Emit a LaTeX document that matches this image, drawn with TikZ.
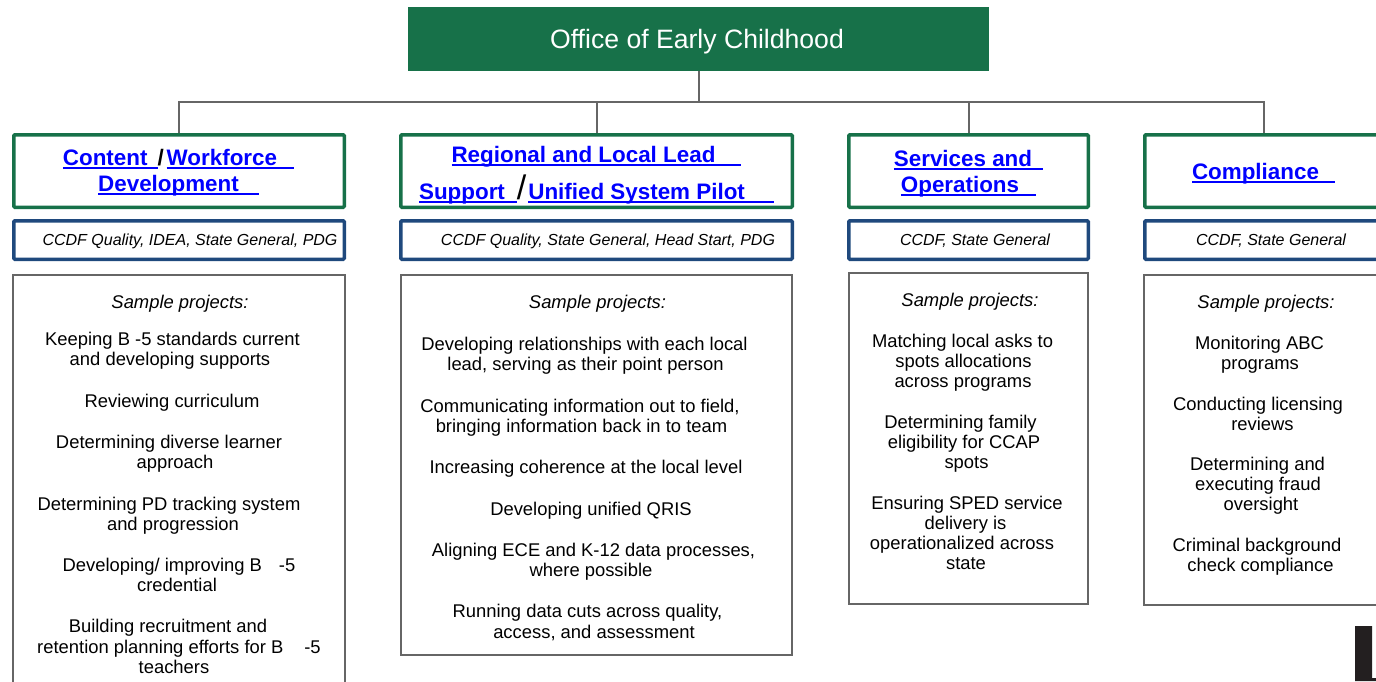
\documentclass[tikz,border=0pt]{standalone}
\usepackage{fontspec}
\setmainfont{Liberation Sans}
\definecolor{oecgreen}{RGB}{23,113,73}
\definecolor{oecblue}{RGB}{31,73,125}
\definecolor{linegray}{RGB}{102,102,102}
\definecolor{linkblue}{RGB}{0,0,255}
\definecolor{ink}{RGB}{35,31,32}
\newcommand\lnk[2]{\setbox0\hbox{#1\hspace{#2pt}}\rlap{\rule[-3.8pt]{\wd0}{1.6pt}}\box0}
\newcommand\bl[4]{\node[body] (#1) at (#2,#3) {#4};}
\newcommand\samplab[3]{\node[samp] (#1) at (#2,#3) {Sample projects:};}
\tikzset{
  greenbox/.style={draw=oecgreen, line width=3.5pt, inner sep=0pt, rounded corners=1pt},
  bluebox/.style={draw=oecblue, line width=3.5pt, inner sep=0pt, rounded corners=1pt},
  graybox/.style={draw=linegray, line width=1.8pt, inner sep=0pt},
  conn/.style={draw=linegray, line width=2pt, line join=miter},
  title/.style={font=\fontsize{22.4}{26}\selectfont\bfseries, text=linkblue, inner sep=0pt, anchor=base},
  fund/.style={font=\fontsize{16}{19}\selectfont\itshape, inner sep=0pt, anchor=base},
  body/.style={font=\fontsize{18.4}{20}\selectfont, inner sep=0pt, anchor=base},
  samp/.style={font=\fontsize{18.4}{20}\selectfont\itshape, inner sep=0pt, anchor=base}
}
\begin{document}
\begin{tikzpicture}[x=1pt,y=-1pt]
\useasboundingbox (0,0) rectangle (1376,681);
\clip (0,0) rectangle (1376,681);

% top
\node[fill=oecgreen, minimum width=581pt, minimum height=64pt, inner sep=0pt] (top) at (698.5,39) {};
\node[font=\fontsize{26.6}{30}\selectfont, text=white, inner sep=0pt, anchor=base] (toptext) at (697,48) {Office of Early Childhood};

% header boxes
\node[greenbox, minimum width=330.5pt, minimum height=72.5pt] (h1) at (179,171) {};
\node[greenbox, minimum width=391.5pt, minimum height=72.5pt] (h2) at (596.5,171) {};
\node[greenbox, minimum width=239.5pt, minimum height=72.5pt] (h3) at (968.5,171) {};
\node[greenbox, minimum width=238.5pt, minimum height=72.5pt] (h4) at (1264,171) {};

% connectors
\coordinate (bus) at (0,102);
\draw[conn] (top.south) -- (top.south |- bus);
\draw[conn] (h1.north) -- (h1.north |- bus) -- (h4.north |- bus) -- (h4.north);
\draw[conn] (h2.north) -- (h2.north |- bus);
\draw[conn] (h3.north) -- (h3.north |- bus);

% funding boxes
\node[bluebox, minimum width=330.5pt, minimum height=38.5pt] (b1) at (179,240) {};
\node[bluebox, minimum width=391.5pt, minimum height=38.5pt] (b2) at (596.5,240) {};
\node[bluebox, minimum width=239.5pt, minimum height=38.5pt] (b3) at (968.5,240) {};
\node[bluebox, minimum width=238.5pt, minimum height=38.5pt] (b4) at (1264,240) {};

% project boxes
\node[graybox, minimum width=332pt, minimum height=444pt] (g1) at (179,497) {};
\node[graybox, minimum width=391pt, minimum height=380pt] (g2) at (596.5,465) {};
\node[graybox, minimum width=239pt, minimum height=331pt] (g3) at (968.5,438.5) {};
\node[graybox, minimum width=240pt, minimum height=330pt] (g4) at (1264,440) {};

% titles
\node[title] (t1a) at (178.5,165) {\lnk{Content}{10}{\color{black}/}\hspace{3pt}\lnk{Workforce}{17}};
\node[title] (t1b) at (178.5,191) {\lnk{Development}{20}};
\node[title] (t2a) at (596.5,162) {\lnk{Regional and Local Lead}{26}};
\node[title] (t2b) at (596.5,199) {\lnk{Support}{12}{\color{black}\fontsize{34}{34}\selectfont\mdseries/}\hspace{2pt}\lnk{Unified System Pilot}{29}};
\node[title] (t3a) at (968.5,166) {\lnk{Services and}{11}};
\node[title] (t3b) at (968.5,192) {\lnk{Operations}{17}};
\node[title] (t4) at (1263.5,179) {\lnk{Compliance}{16}};

% funding texts
\node[fund] (f1) at (190,245) {CCDF Quality, IDEA, State General, PDG};
\node[fund] (f2) at (608,245) {CCDF Quality, State General, Head Start, PDG};
\node[fund] (f3) at (975,245) {CCDF, State General};
\node[fund] (f4) at (1271,245) {CCDF, State General};

% box 1 texts
\samplab{s1}{180}{308}
\bl{a1}{172.5}{345}{Keeping B -5 standards current}
\bl{a2}{170}{365}{and developing supports}
\bl{a3}{172}{407}{Reviewing curriculum}
\bl{a4}{169}{448}{Determining diverse learner}
\bl{a5}{175}{468}{approach}
\bl{a6}{169}{510}{Determining PD tracking system}
\bl{a7}{173}{530}{and progression}
\bl{a8}{179}{571}{Developing/ improving B\hspace{17pt}-5}
\bl{a9}{177}{591}{credential}
\bl{a10}{168}{632}{Building recruitment and}
\bl{a11}{179}{653}{retention planning efforts for B\hspace{21pt}-5}
\bl{a12}{174}{673}{teachers}

% box 2 texts
\samplab{s2}{597.5}{308}
\bl{c1}{584.5}{350}{Developing relationships with each local}
\bl{c2}{585.5}{370}{lead, serving as their point person}
\bl{c3}{580}{412}{Communicating information out to field,}
\bl{c4}{581.5}{432}{bringing information back in to team}
\bl{c5}{586}{473}{Increasing coherence at the local level}
\bl{c6}{591}{515}{Developing unified QRIS}
\bl{c7}{593.5}{556}{Aligning ECE and K-12 data processes,}
\bl{c8}{591}{576}{where possible}
\bl{c9}{587.5}{617}{Running data cuts across quality,}
\bl{c10}{594}{638}{access, and assessment}

% box 3 texts
\samplab{s3}{970}{306}
\bl{d1}{962.5}{347}{Matching local asks to}
\bl{d2}{963.5}{367}{spots allocations}
\bl{d3}{963}{387}{across programs}
\bl{d4}{960.5}{428}{Determining family}
\bl{d5}{964}{448}{eligibility for CCAP}
\bl{d6}{966.5}{468}{spots}
\bl{d7}{967}{509}{Ensuring SPED service}
\bl{d8}{965.5}{529}{delivery is}
\bl{d9}{962}{549}{operationalized across}
\bl{d10}{966}{569}{state}

% box 4 texts
\samplab{s4}{1266}{308}
\bl{e1}{1259.5}{349}{Monitoring ABC}
\bl{e2}{1260}{369}{programs}
\bl{e3}{1258}{410}{Conducting licensing}
\bl{e4}{1262.5}{430}{reviews}
\bl{e5}{1257.5}{470}{Determining and}
\bl{e6}{1258}{490}{executing fraud}
\bl{e7}{1261}{510}{oversight}
\bl{e8}{1257}{551}{Criminal background}
\bl{e9}{1260.5}{571}{check compliance}

% partial letter at bottom right
\fill[ink] (1355,626) -- (1372,626) -- (1372,678) -- (1376,678) -- (1376,681) -- (1355,681) -- cycle;
\end{tikzpicture}
\end{document}
